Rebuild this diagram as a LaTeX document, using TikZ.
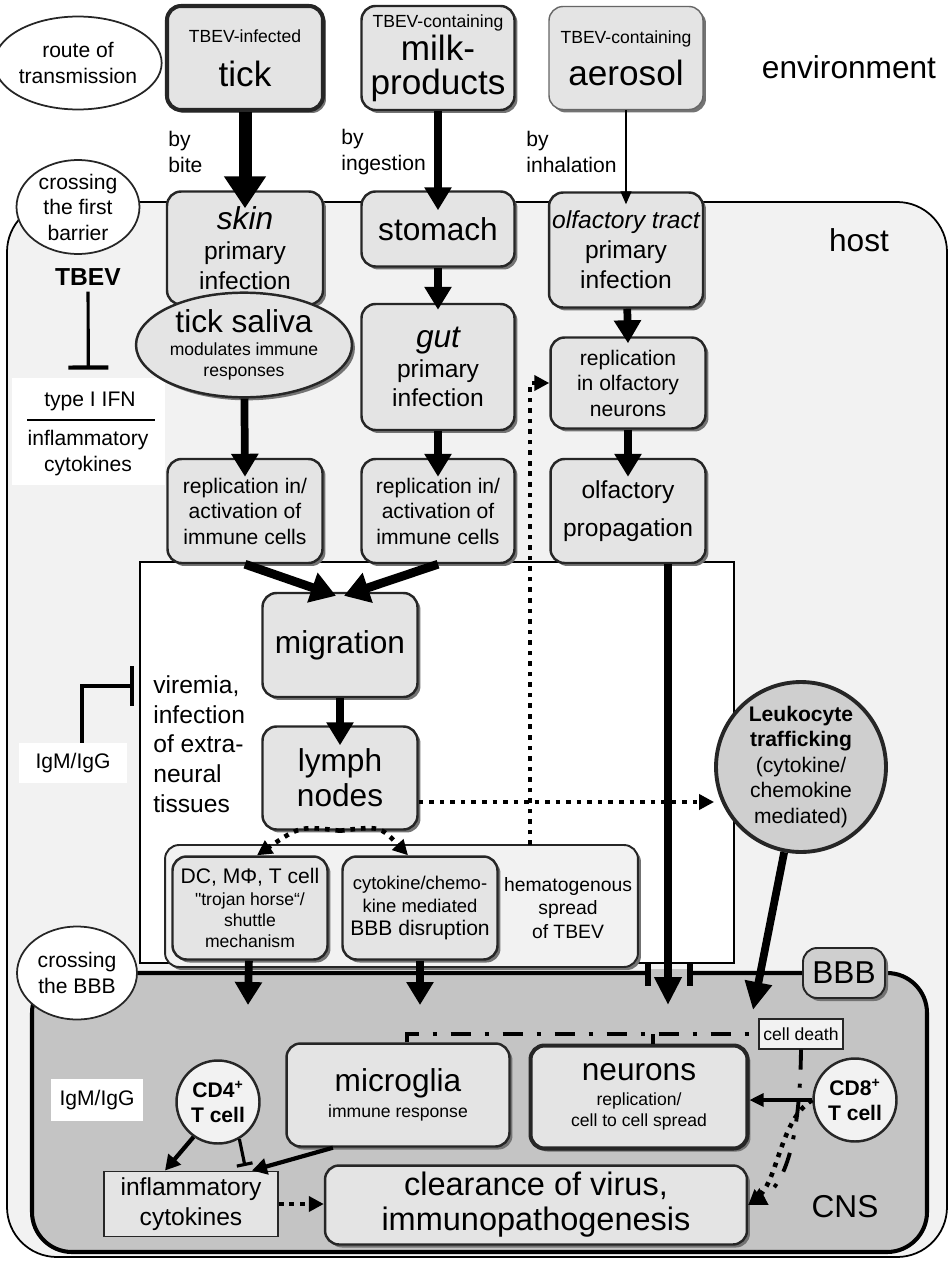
\documentclass[tikz,border=0pt]{standalone}
\usepackage{fontspec}
\setmainfont{Liberation Sans}
\usepackage{tikz}
\usetikzlibrary{arrows.meta, calc, shapes.geometric, shadows}

\definecolor{hostgray}{HTML}{F2F2F2}
\definecolor{boxgray}{HTML}{E4E4E4}
\definecolor{cnsgray}{HTML}{C4C4C4}
\definecolor{leukgray}{HTML}{CFCFCF}
\definecolor{linegray}{HTML}{262626}

\newcommand{\sizeXL}{\fontsize{20}{18}\selectfont}
\newcommand{\sizeL}{\fontsize{18}{20}\selectfont}
\newcommand{\sizeM}{\fontsize{14}{17}\selectfont}
\newcommand{\sizeS}{\fontsize{12}{14.5}\selectfont}
\newcommand{\sizeXS}{\fontsize{10}{12}\selectfont}
\newcommand{\straightq}{\XeTeXglyph\XeTeXcharglyph"22\relax}

\begin{document}
\begin{tikzpicture}[x=0.02cm, y=-0.02cm,
  box/.style={draw=linegray, line width=1.4pt, fill=boxgray, rounded corners=0.28cm, align=center, inner sep=1pt,
    drop shadow={shadow xshift=0.06cm, shadow yshift=-0.06cm, fill=black!55, opacity=1}},
  oval/.style={draw=linegray, line width=1pt, fill=white, ellipse, align=center, inner sep=0pt, font=\sizeS},
  tcell/.style={draw=linegray, line width=1.4pt, fill=hostgray, circle, minimum size=1.66cm, align=center, inner sep=0pt, font=\sizeS\bfseries},
  note/.style={font=\sizeS, align=left, inner sep=0pt},
  fat/.style={line width=7.4pt, -{Triangle[length=0.64cm, width=0.8cm]}},
  mid/.style={line width=4.4pt, -{Triangle[length=0.46cm, width=0.52cm]}},
  slim/.style={line width=2.4pt, -{Triangle[length=0.3cm, width=0.32cm]}},
  dots/.style={line width=2.6pt, dash pattern=on 2.6pt off 3.4pt, -{Triangle[length=0.3cm, width=0.3cm]}},
  dashdot/.style={line width=2.2pt, dash pattern=on 0.4cm off 0.28cm on 0.08cm off 0.28cm},
  inhibit/.style={line width=1.8pt, -{Bar[width=0.8cm, line width=2.4pt]}}]

\fill[white] (0,0) rectangle (948,1261);
\useasboundingbox (0,0) rectangle (948,1261);

\draw[line width=1pt, fill=hostgray, rounded corners=1cm] (7,202) rectangle (947,1257);
\draw[line width=0.8pt, fill=white] (140,562) rectangle (734,963);
\draw[line width=2.3pt, fill=cnsgray, rounded corners=0.8cm] (32,973) rectangle (927,1252);
\fill[cnsgray] (651,969) rectangle (687,978);
\draw[line width=3pt] (648,964) -- (648,986) (690,964) -- (690,986);

\node[box, line width=2.3pt, minimum width=3.12cm, minimum height=2.08cm, font=\sizeXL] (tick) at (245,58) {{\sizeXS TBEV-infected}\\[7pt]tick};
\node[box, minimum width=3.06cm, minimum height=2.08cm, font=\sizeXL] (milk) at (438,58) {{\sizeXS TBEV-containing}\\[1pt]milk-\\[1pt]products};
\node[box, draw=black!60, line width=0.8pt, minimum width=3.08cm, minimum height=2.06cm, font=\sizeXL] (aerosol) at (626,58) {{\sizeXS TBEV-containing}\\[6pt]aerosol};
\node[font=\sizeL] (env) at (849,67) {environment};
\node[oval, minimum width=2.86cm, minimum height=1.86cm] (route) at (78,63) {route of\\transmission};
\node[note, anchor=west] (bite) at (168,152) {by\\bite};
\node[note, anchor=west] (ingest) at (341,152) {by\\ingestion};
\node[note, anchor=west] (inhale) at (526,152) {by\\inhalation};

\node[box, minimum width=3.12cm, minimum height=2.26cm, font=\sizeM] (skin) at (245,248) {{\sizeL\itshape skin}\\primary\\infection};
\node[box, minimum width=3.06cm, minimum height=1.5cm, font=\sizeL] (stomach) at (438,229) {stomach};
\node[box, minimum width=3.08cm, minimum height=2.3cm, font=\sizeM] (olfact) at (626,250) {{\itshape olfactory tract}\\primary\\infection};
\node[font=\sizeL] (host) at (859,240) {host};
\node[oval, minimum width=2.46cm, minimum height=1.82cm] (barrier) at (78,207) {crossing\\the first\\barrier};

\node[font=\sizeM\bfseries] (tbev) at (88,277) {TBEV};
\node[fill=white, minimum width=3.06cm, minimum height=2.14cm] (ifnbox) at (88.5,431.5) {};
\node[font=\sizeS] (ifn) at (90,401) {type I IFN};
\draw[line width=1.2pt] (27,420) -- (155,420);
\node[font=\sizeS, align=center] (infcyt) at (88,453) {inflammatory\\cytokines};
\draw[inhibit, shorten >=0.16cm] (tbev) -- (ifnbox);

\node[box, ellipse, sharp corners, minimum width=4.32cm, minimum height=1.9cm, font=\sizeXS] (saliva) at (244,345) {{\sizeL tick saliva}\\[1pt]modulates immune\\responses};
\node[box, minimum width=3.06cm, minimum height=2.52cm, font=\sizeM] (gut) at (438,367) {{\sizeL\itshape gut}\\primary\\infection};
\node[box, minimum width=3.1cm, minimum height=1.82cm, font=\sizeS] (olfneur) at (628,383) {replication\\in olfactory\\neurons};
\node[box, minimum width=3.1cm, minimum height=2.08cm, font=\sizeM] (olfprop) at (628,511) {olfactory\\[5pt]propagation};
\node[box, minimum width=3.1cm, minimum height=2.08cm, font=\sizeS] (repla) at (245,511) {replication in/\\activation of\\immune cells};
\node[box, minimum width=3.06cm, minimum height=2.08cm, font=\sizeS] (replb) at (438,511) {replication in/\\activation of\\immune cells};

\node[box, minimum width=3.1cm, minimum height=2.08cm, font=\sizeL] (migration) at (340,645) {migration};
\node[box, minimum width=3.1cm, minimum height=2.06cm, font=\sizeL] (lymph) at (340,778) {lymph\\nodes};
\node[note, font=\sizeM, anchor=north west] (viremia) at (153,675) {viremia,\\infection\\of extra-\\neural\\tissues};
\node[fill=white, minimum width=2.18cm, minimum height=0.8cm, font=\sizeS] (igma) at (73,763) {IgM/IgG};
\coordinate (virbar) at (134,686);
\draw[inhibit] ([xshift=0.18cm]igma.north) |- (virbar);

\node[circle, draw=linegray, line width=2.2pt, fill=leukgray, minimum size=3.4cm, align=center, inner sep=0pt, font=\sizeS] (leuk) at (801,767) {{\bfseries Leukocyte}\\{\bfseries trafficking}\\(cytokine/\\chemokine\\mediated)};

\node[box, fill=hostgray, line width=1.1pt, minimum width=9.46cm, minimum height=2.44cm] (group) at (401.5,906) {};
\node[box, minimum width=3.1cm, minimum height=2.06cm, font=\sizeXS] (dc) at (250,908) {{\sizeS DC, MΦ, T cell}\\\straightq trojan horse“/\\shuttle\\mechanism};
\node[box, minimum width=3.1cm, minimum height=2.06cm, font=\fontsize{10.5}{13}\selectfont] (cytbbb) at (420,908) {cytokine/chemo-\\kine mediated\\{\sizeS BBB disruption}};
\node[align=center, font=\fontsize{11}{13.6}\selectfont] (hemat) at (568,908) {hematogenous\\spread\\of TBEV};
\coordinate (hemtop) at (530,845);

\node[box, fill=leukgray, line width=1.1pt, minimum width=1.64cm, minimum height=1cm, font=\sizeL] (bbb) at (844,973) {BBB};
\node[oval, minimum width=2.4cm, minimum height=1.86cm] (crossbbb) at (77,973) {crossing\\the BBB};

\node[draw=linegray, fill=hostgray, line width=0.8pt, minimum width=1.68cm, minimum height=0.6cm, font=\sizeXS, inner sep=1pt] (death) at (801,1034) {cell death};
\node[box, minimum width=4.46cm, minimum height=2.06cm, font=\sizeXS] (microglia) at (398,1095) {{\sizeL microglia}\\[3pt]immune response};
\node[box, line width=2.3pt, minimum width=4.34cm, minimum height=2.06cm, font=\sizeXS] (neurons) at (639,1097) {{\sizeL neurons}\\[2pt]replication/\\cell to cell spread};
\node[tcell] (cdfour) at (218,1102) {CD4\textsuperscript{+}\\T cell};
\node[tcell] (cdeight) at (855,1100) {CD8\textsuperscript{+}\\T cell};
\node[fill=white, minimum width=1.86cm, minimum height=0.84cm, font=\sizeS] (igmb) at (97,1100) {IgM/IgG};
\node[draw=linegray, fill=boxgray, line width=1.1pt, minimum width=3.48cm, minimum height=1.3cm, align=center, font=\sizeM] (inflam) at (191,1204) {inflammatory\\cytokines};
\node[box, minimum width=8.44cm, minimum height=1.58cm, font=\fontsize{18.5}{20}\selectfont] (clearance) at (536,1205) {clearance of virus,\\immunopathogenesis};
\node[font=\sizeL] (cns) at (845,1207) {CNS};

\coordinate (tjoin) at (653,1034);
\coordinate (propin) at (668,1005);
\coordinate (leukin) at (753,1010);
\coordinate (dcin) at (248,1005);
\coordinate (cytin) at (420,1005);
\coordinate (cdbar) at (245,1166);

\draw[fat] (tick) -- ([yshift=-0.36cm]skin.north);
\draw[mid] (milk) -- ([yshift=-0.4cm]stomach.north);
\draw[line width=0.8pt, -{Triangle[length=0.26cm, width=0.22cm]}] (aerosol) -- ([yshift=-0.26cm]olfact.north);
\draw[mid] (stomach) -- ([yshift=-0.14cm]gut.north);
\draw[mid] (olfact) -- ([yshift=-0.14cm]olfneur.north);
\draw[mid] (olfneur) -- ([yshift=-0.38cm]olfprop.north);
\draw[mid] (saliva) -- ([yshift=-0.38cm]repla.north);
\draw[mid] (gut) -- ([yshift=-0.38cm]replb.north);
\draw[line width=5pt, -{Triangle[length=0.5cm, width=0.6cm]}] (repla.south) -- ([xshift=-0.08cm, yshift=-0.08cm]migration.north);
\draw[line width=5pt, -{Triangle[length=0.5cm, width=0.6cm]}] (replb.south) -- ([xshift=0.08cm, yshift=-0.08cm]migration.north);
\draw[mid] (migration) -- ([yshift=-0.4cm]lymph.north);

\draw[dots] ([yshift=-0.48cm]lymph.east) -- ([yshift=-0.48cm]lymph.east -| leuk.west);
\draw[dots] (hemtop) |- (olfneur.west);
\draw[dots] (lymph.south) .. controls (300,826) .. ([xshift=0.14cm]dc.north);
\draw[dots] (lymph.south) .. controls (380,826) .. ([xshift=-0.24cm]cytbbb.north);

\draw[line width=4.4pt, -{Triangle[length=0.56cm, width=0.52cm]}] ([xshift=0.8cm]olfprop.south) -- (propin);
\draw[line width=4.4pt, -{Triangle[length=0.56cm, width=0.52cm]}] (leuk) -- (leukin);
\draw[mid] (dc) -- (dcin);
\draw[mid] (cytbbb) -- (cytin);

\draw[dashdot] ([xshift=0.18cm]microglia.north) |- (death.west);
\draw[dashdot] (neurons.north -| tjoin) -- (tjoin);
\draw[dashdot, -{Triangle[length=0.36cm, width=0.36cm]}] (death.south) .. controls (800,1140) and (785,1185) .. (clearance.east);
\draw[dots] (cdeight.west) .. controls (780,1120) and (778,1180) .. (clearance.east);
\draw[line width=1.8pt, -{Triangle[length=0.28cm, width=0.26cm]}] (cdeight.west) -- (cdeight.west -| neurons.east);

\draw[slim] (cdfour.235) -- ([xshift=-0.52cm]inflam.north);
\draw[line width=1.8pt, -{Bar[width=0.32cm]}] (cdfour.300) -- (cdbar);
\draw[slim] (microglia.219) -- ([xshift=1.22cm]inflam.north);
\draw[dots] (inflam.east) -- (inflam.east -| clearance.west);
\end{tikzpicture}
\end{document}
